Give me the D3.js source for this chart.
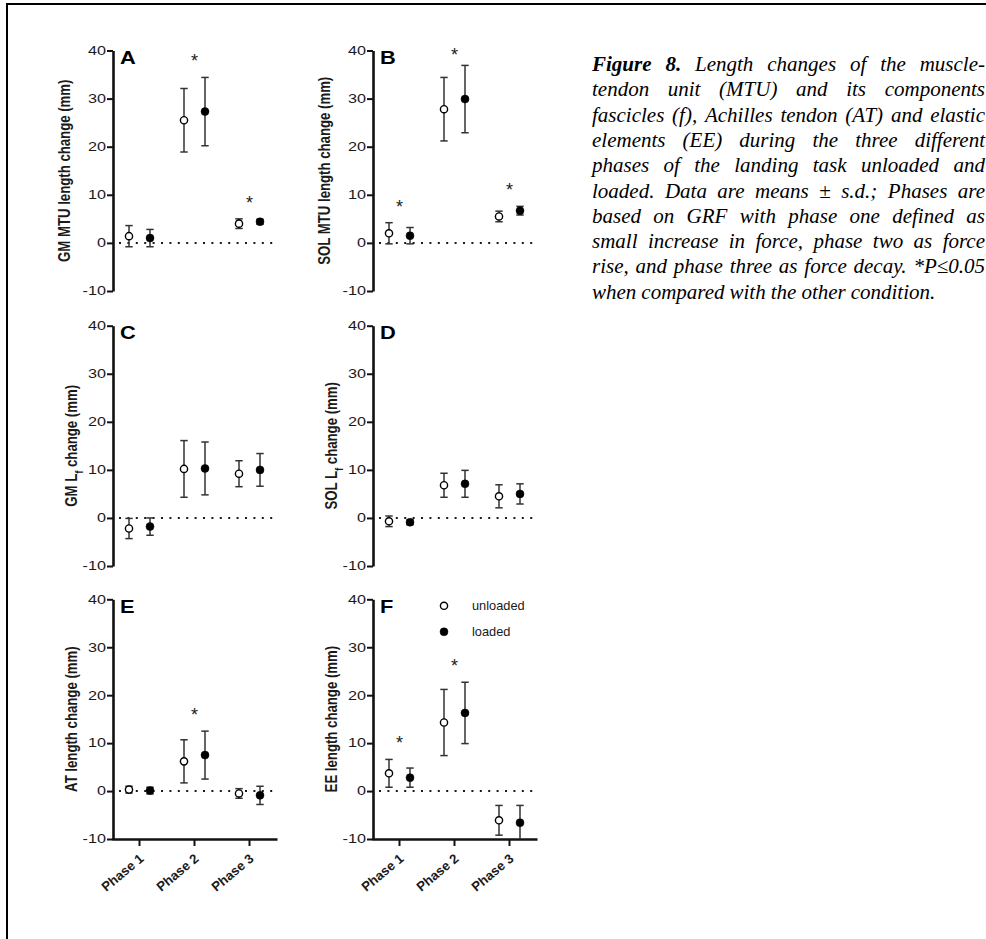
<!DOCTYPE html>
<html>
<head>
<meta charset="utf-8">
<script src="https://cdn.jsdelivr.net/npm/d3@7"></script>
<style>
  body { margin: 0; background: #fff; }
  svg { display: block; }
</style>
</head>
<body>
<svg id="chart" width="986" height="939" font-family="Arial, 'Liberation Sans', sans-serif"></svg>
<script>
// ---- data (means and s.d. in mm) ----
const phases = ["Phase 1", "Phase 2", "Phase 3"];
const conditions = ["unloaded", "loaded"];
const yTicks = [-10, 0, 10, 20, 30, 40];

const gmMtuUnloaded = [1.4, 25.5, 4.0];
const gmMtuUnloadedSd = [2.2, 6.6, 1.0];
const gmMtuLoaded = [1.0, 27.3, 4.4];
const gmMtuLoadedSd = [1.8, 7.1, 0.5];
const gmMtuSig = [false, true, true];

const solMtuUnloaded = [2.0, 27.8, 5.5];
const solMtuUnloadedSd = [2.2, 6.6, 1.1];
const solMtuLoaded = [1.5, 29.9, 6.7];
const solMtuLoadedSd = [1.7, 7.0, 0.9];
const solMtuSig = [true, true, true];

const gmLfUnloaded = [-2.2, 10.2, 9.2];
const gmLfUnloadedSd = [2.1, 5.9, 2.7];
const gmLfLoaded = [-1.8, 10.3, 10.0];
const gmLfLoadedSd = [1.8, 5.5, 3.4];
const gmLfSig = [false, false, false];

const solLfUnloaded = [-0.7, 6.8, 4.5];
const solLfUnloadedSd = [1.1, 2.5, 2.4];
const solLfLoaded = [-0.9, 7.1, 5.0];
const solLfLoadedSd = [0.5, 2.8, 2.1];
const solLfSig = [false, false, false];

const atUnloaded = [0.3, 6.2, -0.5];
const atUnloadedSd = [0.7, 4.5, 1.0];
const atLoaded = [0.1, 7.5, -0.9];
const atLoadedSd = [0.7, 5.0, 1.9];
const atSig = [false, true, false];

const eeUnloaded = [3.7, 14.3, -6.1];
const eeUnloadedSd = [2.9, 6.9, 3.1];
const eeLoaded = [2.8, 16.3, -6.6];
const eeLoadedSd = [2.0, 6.4, 3.6];
const eeSig = [true, true, false];

const captionLines = [
  "Figure 8. Length changes of the muscle-",
  "tendon unit (MTU) and its components",
  "fascicles (f), Achilles tendon (AT) and elastic",
  "elements (EE) during the three different",
  "phases of the landing task unloaded and",
  "loaded. Data are means \u00b1 s.d.; Phases are",
  "based on GRF with phase one defined as",
  "small increase in force, phase two as force",
  "rise, and phase three as force decay. *P\u22640.05",
  "when compared with the other condition."
];

// label parts: [before, subscript, after]
const panels = [
  { letter: "A", label: ["GM MTU length change (mm)", "", ""], unl: gmMtuUnloaded, unlSd: gmMtuUnloadedSd, load: gmMtuLoaded, loadSd: gmMtuLoadedSd, sig: gmMtuSig },
  { letter: "B", label: ["SOL MTU length change (mm)", "", ""], unl: solMtuUnloaded, unlSd: solMtuUnloadedSd, load: solMtuLoaded, loadSd: solMtuLoadedSd, sig: solMtuSig },
  { letter: "C", label: ["GM L", "f", " change (mm)"], unl: gmLfUnloaded, unlSd: gmLfUnloadedSd, load: gmLfLoaded, loadSd: gmLfLoadedSd, sig: gmLfSig },
  { letter: "D", label: ["SOL L", "f", " change (mm)"], unl: solLfUnloaded, unlSd: solLfUnloadedSd, load: solLfLoaded, loadSd: solLfLoadedSd, sig: solLfSig },
  { letter: "E", label: ["AT length change (mm)", "", ""], unl: atUnloaded, unlSd: atUnloadedSd, load: atLoaded, loadSd: atLoadedSd, sig: atSig },
  { letter: "F", label: ["EE length change (mm)", "", ""], unl: eeUnloaded, unlSd: eeUnloadedSd, load: eeLoaded, loadSd: eeLoadedSd, sig: eeSig }
];

// ---- layout ----
const colX = [113, 373];
const rowY = [[291, 50.5], [566, 325.7], [839, 599.3]];
const labelOffset = [49, 42, 42];
const axisColor = "#111";
const textColor = "#1a1a1a";
const sansFont = "Arial, 'Liberation Sans', sans-serif";

const svg = d3.select("#chart");

// frame (top and left edge only)
svg.append("path")
   .attr("d", "M7,939V4H986")
   .attr("fill", "none")
   .attr("stroke", "#000")
   .attr("stroke-width", 2);

panels.forEach((p, i) => {
    const col = i % 2, row = Math.floor(i / 2);
    const x0 = colX[col];
    const [yb, yt] = rowY[row];

    const y = d3.scaleLinear().domain([-10, 40]).range([yb, yt]).clamp(true);
    const x = d3.scaleBand().domain(phases).range([x0 - 1, x0 + 164]);
    const xc = d3.scaleBand().domain(conditions).range([-21, 21]);
    const cx = (ph, c) => x(ph) + x.bandwidth() / 2 + xc(c) + xc.bandwidth() / 2;

    const g = svg.append("g").attr("class", "panel-" + p.letter);

    // dotted zero line
    g.append("line")
     .attr("x1", x0 + 6).attr("x2", x0 + 163)
     .attr("y1", y(0)).attr("y2", y(0))
     .attr("stroke", textColor)
     .attr("stroke-width", 2)
     .attr("stroke-dasharray", "2,6.4");

    // y axis
    const yAxis = g.append("g")
                   .attr("transform", `translate(${x0},0)`)
                   .call(d3.axisLeft(y).tickValues(yTicks).tickSize(6).tickSizeOuter(0).tickFormat(d => String(d)));
    yAxis.select(".domain").attr("stroke", axisColor).attr("stroke-width", 2.6);
    yAxis.selectAll(".tick line").attr("stroke", axisColor).attr("stroke-width", 2);
    yAxis.selectAll(".tick text")
         .attr("x", -7 / 1.35)
         .attr("transform", "scale(1.35,1)")
         .attr("font-size", 12)
         .attr("font-family", sansFont)
         .attr("fill", textColor);

    // x axis only on bottom row
    if (row === 2) {
        const xAxis = g.append("g")
                       .attr("transform", `translate(0,${yb})`)
                       .call(d3.axisBottom(x).tickSize(7).tickSizeOuter(0));
        xAxis.select(".domain").attr("stroke", axisColor).attr("stroke-width", 2.6);
        xAxis.selectAll(".tick line").attr("stroke", axisColor).attr("stroke-width", 2);
        xAxis.selectAll(".tick text")
             .attr("y", 0).attr("dy", 0)
             .attr("text-anchor", "end")
             .attr("transform", "translate(5,21) rotate(-40)")
             .attr("font-size", 13.2)
             .attr("font-weight", "bold")
             .attr("font-family", sansFont)
             .attr("fill", textColor);
    }

    // y label
    const ly = (yb + yt) / 2;
    const label = g.append("text")
                   .attr("transform", `translate(${x0 - labelOffset[row]},${ly}) scale(1.2,1) rotate(-90)`)
                   .attr("text-anchor", "middle")
                   .attr("dy", "0.35em")
                   .attr("font-size", 13.2)
                   .attr("font-weight", "bold")
                   .attr("fill", textColor);
    label.append("tspan").text(p.label[0]);
    if (p.label[1]) {
        label.append("tspan").attr("baseline-shift", "sub").attr("font-size", 9.5).text(p.label[1]);
        label.append("tspan").text(p.label[2]);
    }

    // panel letter
    g.append("text")
     .attr("transform", `translate(${x0 + 7},${yt + 13.5}) scale(1.15,1)`)
     .attr("font-size", 19)
     .attr("font-weight", "bold")
     .attr("fill", "#000")
     .text(p.letter);

    // points
    const pts = phases.flatMap((ph, j) => [
        { phase: ph, cond: "unloaded", mean: p.unl[j], sd: p.unlSd[j] },
        { phase: ph, cond: "loaded", mean: p.load[j], sd: p.loadSd[j] }
    ]);

    const bars = g.selectAll(".err")
                  .data(pts)
                  .enter()
                  .append("g")
                  .attr("class", "err")
                  .attr("stroke", "#333")
                  .attr("stroke-width", 1.5);
    bars.append("line")
        .attr("x1", d => cx(d.phase, d.cond)).attr("x2", d => cx(d.phase, d.cond))
        .attr("y1", d => y(d.mean - d.sd)).attr("y2", d => y(d.mean + d.sd));
    bars.append("line")
        .attr("x1", d => cx(d.phase, d.cond) - 3.7).attr("x2", d => cx(d.phase, d.cond) + 3.7)
        .attr("y1", d => y(d.mean + d.sd)).attr("y2", d => y(d.mean + d.sd));
    bars.filter(d => d.mean - d.sd > -10)
        .append("line")
        .attr("x1", d => cx(d.phase, d.cond) - 3.7).attr("x2", d => cx(d.phase, d.cond) + 3.7)
        .attr("y1", d => y(d.mean - d.sd)).attr("y2", d => y(d.mean - d.sd));

    g.selectAll(".dot")
     .data(pts)
     .enter()
     .append("circle")
     .attr("class", "dot")
     .attr("cx", d => cx(d.phase, d.cond))
     .attr("cy", d => y(d.mean))
     .attr("r", d => d.cond === "unloaded" ? 3.6 : 4)
     .attr("fill", d => d.cond === "unloaded" ? "#fff" : "#000")
     .attr("stroke", "#000")
     .attr("stroke-width", d => d.cond === "unloaded" ? 1.4 : 0.5);

    // significance stars
    const stars = phases.map((ph, j) => ({ phase: ph, j: j })).filter(d => p.sig[d.j]);
    g.selectAll(".star")
     .data(stars)
     .enter()
     .append("text")
     .attr("class", "star")
     .attr("x", d => x(d.phase) + x.bandwidth() / 2)
     .attr("y", d => {
         const top = Math.min(y(p.unl[d.j] + p.unlSd[d.j]), y(p.load[d.j] + p.loadSd[d.j]));
         return Math.max(top - 20, y(40)) + 10;
     })
     .attr("text-anchor", "middle")
     .attr("font-size", 18)
     .attr("fill", textColor)
     .text("*");

    // legend in panel F
    if (i === 5) {
        const lg = g.selectAll(".legend")
                    .data(conditions)
                    .enter()
                    .append("g")
                    .attr("class", "legend")
                    .attr("transform", (d, k) => `translate(${x0 + 71},${yt + 6.5 + k * 26})`);
        lg.append("circle")
          .attr("r", d => d === "unloaded" ? 3.6 : 4)
          .attr("fill", d => d === "unloaded" ? "#fff" : "#000")
          .attr("stroke", "#000")
          .attr("stroke-width", d => d === "unloaded" ? 1.4 : 0.5);
        lg.append("text")
          .attr("x", 28)
          .attr("dy", "0.35em")
          .attr("font-size", 12.8)
          .attr("fill", textColor)
          .text(d => d);
    }
});

// ---- caption, justified ----
const capX = 592, capW = 393, capY = 71, capLead = 25.3;
const cap = svg.append("g")
               .attr("font-family", "'Liberation Serif', 'Times New Roman', serif")
               .attr("font-style", "italic")
               .attr("font-size", 21)
               .attr("fill", "#000");

captionLines.forEach((line, li) => {
    const words = line.split(" ");
    const items = words.map((w, wi) => {
        const t = cap.append("text")
                     .attr("y", capY + li * capLead)
                     .attr("font-weight", li === 0 && wi < 2 ? "bold" : "normal")
                     .text(w);
        return { node: t, w: t.node().getComputedTextLength() };
    });
    const total = d3.sum(items, d => d.w);
    const last = li === captionLines.length - 1;
    const gap = last ? 5 : Math.max(4, (capW - total) / (items.length - 1));
    let cur = capX;
    items.forEach(d => {
        d.node.attr("x", cur);
        cur += d.w + gap;
    });
});
</script>
</body>
</html>
